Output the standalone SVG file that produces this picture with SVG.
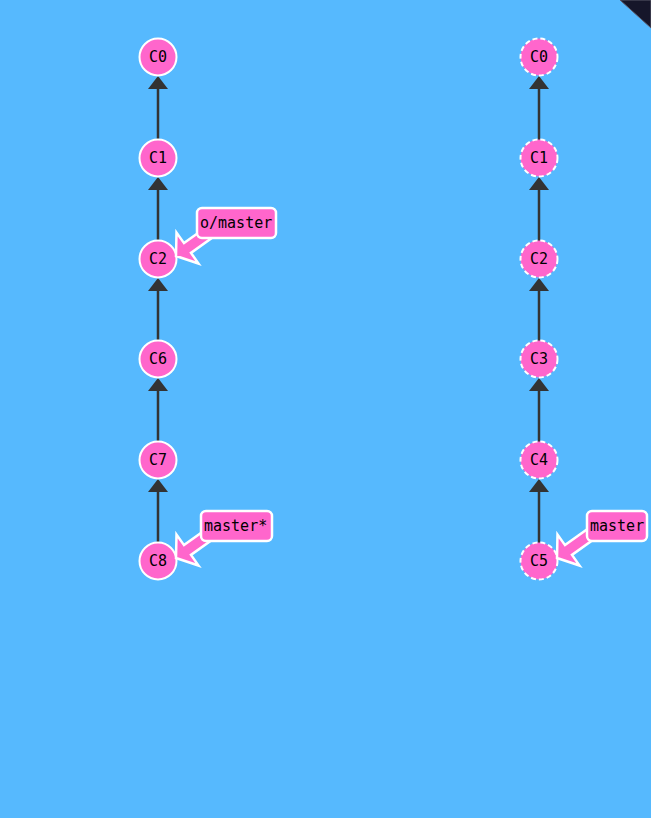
<svg xmlns="http://www.w3.org/2000/svg" width="651" height="818" viewBox="0 0 651 818">
<defs>
<style>
.node circle{fill:#ff66cc;stroke:#fff;stroke-width:2}
.node.o circle{stroke-dasharray:5 3}
.node text{font-family:"DejaVu Sans Mono","Liberation Mono",monospace;font-size:15px;fill:#000;text-anchor:middle}
.edge line{stroke:#333;stroke-width:2.5}
.edge path{fill:#333}
.lbl use{fill:#ff66cc;stroke:#fff;stroke-width:2.5;stroke-linejoin:miter}
.lbl rect{fill:#ff66cc;stroke:#fff;stroke-width:2.5}
.lbl text{font-family:"DejaVu Sans Mono","Liberation Mono",monospace;font-size:15px;fill:#000}
</style>
<polygon id="arr" points="176,256 176.5,232.5 184,243.1 220.6,217 227.6,226.8 191,252.9 198.5,263.5"/>
</defs>
<rect width="651" height="818" fill="#56b9fe"/>
<polygon points="620,0 651,0 651,28" fill="#16162a" stroke="#5a5a6a" stroke-width="1"/>
<g id="connectors" class="edge">
<line x1="158" y1="88" x2="158" y2="140"/><path d="M158,76 L168,89 L148,89 Z"/>
<line x1="158" y1="189" x2="158" y2="241"/><path d="M158,177 L168,190 L148,190 Z"/>
<line x1="158" y1="290" x2="158" y2="341"/><path d="M158,278 L168,291 L148,291 Z"/>
<line x1="158" y1="390" x2="158" y2="442"/><path d="M158,378 L168,391 L148,391 Z"/>
<line x1="158" y1="491" x2="158" y2="543"/><path d="M158,479 L168,492 L148,492 Z"/>
<line x1="539" y1="88" x2="539" y2="140"/><path d="M539,76 L549,89 L529,89 Z"/>
<line x1="539" y1="189" x2="539" y2="241"/><path d="M539,177 L549,190 L529,190 Z"/>
<line x1="539" y1="290" x2="539" y2="341"/><path d="M539,278 L549,291 L529,291 Z"/>
<line x1="539" y1="390" x2="539" y2="442"/><path d="M539,378 L549,391 L529,391 Z"/>
<line x1="539" y1="491" x2="539" y2="543"/><path d="M539,479 L549,492 L529,492 Z"/>
</g>
<g id="C0" class="node"><circle cx="158" cy="57" r="18.5"/><text x="158" y="62">C0</text></g>
<g id="C1" class="node"><circle cx="158" cy="158" r="18.5"/><text x="158" y="163">C1</text></g>
<g id="C2" class="node"><circle cx="158" cy="259" r="18.5"/><text x="158" y="264">C2</text></g>
<g id="C6" class="node"><circle cx="158" cy="359" r="18.5"/><text x="158" y="364">C6</text></g>
<g id="C7" class="node"><circle cx="158" cy="460" r="18.5"/><text x="158" y="465">C7</text></g>
<g id="C8" class="node"><circle cx="158" cy="561" r="18.5"/><text x="158" y="566">C8</text></g>
<g id="R-C0" class="node o"><circle cx="539" cy="57" r="18.5"/><text x="539" y="62">C0</text></g>
<g id="R-C1" class="node o"><circle cx="539" cy="158" r="18.5"/><text x="539" y="163">C1</text></g>
<g id="R-C2" class="node o"><circle cx="539" cy="259" r="18.5"/><text x="539" y="264">C2</text></g>
<g id="R-C3" class="node o"><circle cx="539" cy="359" r="18.5"/><text x="539" y="364">C3</text></g>
<g id="R-C4" class="node o"><circle cx="539" cy="460" r="18.5"/><text x="539" y="465">C4</text></g>
<g id="R-C5" class="node o"><circle cx="539" cy="561" r="18.5"/><text x="539" y="566">C5</text></g>
<g id="o-master" class="lbl">
<use href="#arr"/>
<rect x="197" y="208" width="79" height="30" rx="5"/>
<text x="200" y="228">o/master</text>
</g>
<g id="master-star" class="lbl">
<use href="#arr" transform="translate(0,302)"/>
<rect x="201" y="511" width="71" height="30" rx="5"/>
<text x="204" y="531">master*</text>
</g>
<g id="master" class="lbl">
<use href="#arr" transform="translate(381,302)"/>
<rect x="587" y="511" width="60" height="30" rx="5"/>
<text x="590" y="531">master</text>
</g>
</svg>
